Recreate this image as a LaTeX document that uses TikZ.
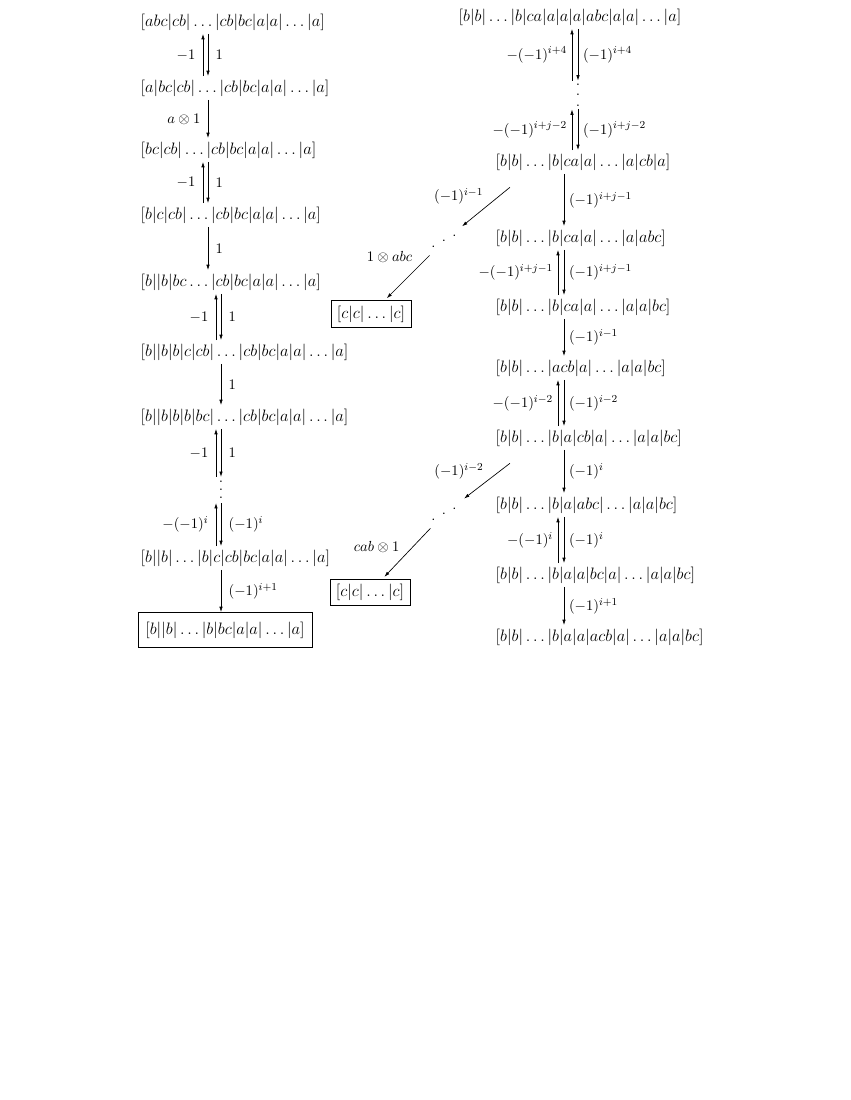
\RequirePackage{fix-cm}
\documentclass[tikz,border=0pt,12pt]{standalone}
\usetikzlibrary{arrows.meta}

\newcommand{\cellfont}{\fontsize{12.4pt}{15pt}\selectfont}
\newcommand{\tallvdots}[1]{\vbox{\baselineskip=#1\lineskiplimit=-10pt\hbox{$.$}\hbox{$.$}\hbox{$.$}}}

\tikzset{every picture/.style={line width=0.5pt}}
\tikzset{
  cell/.style={anchor=west,inner sep=2.5pt,font=\cellfont},
  boxcell/.style={draw,inner sep=4pt,font=\cellfont},
  lbl/.style={font=\small,inner sep=3.5pt},
  lblwide/.style={font=\small,inner sep=5.5pt},
  arr/.style={-{Latex[length=4pt,width=2.6pt]}}
}

\begin{document}
\begin{tikzpicture}[x=0.75pt,y=0.75pt,yscale=-1,xscale=1]
\useasboundingbox (0,0) rectangle (850,1100);

%Columns of the arrows
\coordinate (ca) at (203,0);
\coordinate (cb) at (208,0);
\coordinate (cc) at (216,0);
\coordinate (cd) at (221,0);
\coordinate (ra) at (572,0);
\coordinate (rb) at (578,0);
\coordinate (rc) at (558,0);
\coordinate (rd) at (564,0);

% Text Node
\draw (137,22) node [cell] (l1) {$[abc|cb|\dots|cb|bc|a|a|\dots|a]$};
% Text Node
\draw (137,88) node [cell] (l2) {$[a|bc|cb|\dots|cb|bc|a|a|\dots|a]$};
% Text Node
\draw (137,150) node [cell] (l3) {$[bc|cb|\dots|cb|bc|a|a|\dots|a]$};
% Text Node
\draw (137,215) node [cell] (l4) {$[b|c|cb|\dots|cb|bc|a|a|\dots|a]$};
% Text Node
\draw (137,282) node [cell] (l5) {$[b||b|bc\dots|cb|bc|a|a|\dots|a]$};
% Text Node
\draw (137,352) node [cell] (l6) {$[b||b|b|c|cb|\dots|cb|bc|a|a|\dots|a]$};
% Text Node
\draw (137,417) node [cell] (l7) {$[b||b|b|b|bc|\dots|cb|bc|a|a|\dots|a]$};
% Text Node
\draw (221,490) node [inner sep=3pt] (vdl) {\tallvdots{6pt}};
% Text Node
\draw (137,558) node [cell] (l8) {$[b||b|\dots|b|c|cb|bc|a|a|\dots|a]$};
% Text Node
\draw (225,630) node [boxcell,inner xsep=5.5pt,inner ysep=7pt] (l9) {$[b||b|\dots|b|bc|a|a|\dots|a]$};

% Text Node
\draw (455,17) node [cell] (r1) {$[b|b|\dots|b|ca|a|a|a|abc|a|a|\dots|a]$};
% Text Node
\draw (578,95) node [inner sep=2pt] (vdr) {\tallvdots{8pt}};
% Text Node
\draw (492,162) node [cell] (r2) {$[b|b|\dots|b|ca|a|\dots|a|cb|a]$};
% Text Node
\draw (492,238) node [cell] (r3) {$[b|b|\dots|b|ca|a|\dots|a|abc]$};
% Text Node
\draw (492,307) node [cell] (r4) {$[b|b|\dots|b|ca|a|\dots|a|a|bc]$};
% Text Node
\draw (492,368) node [cell] (r5) {$[b|b|\dots|acb|a|\dots|a|a|bc]$};
% Text Node
\draw (492,438) node [cell] (r6) {$[b|b|\dots|b|a|cb|a|\dots|a|a|bc]$};
% Text Node
\draw (492,505) node [cell] (r7) {$[b|b|\dots|b|a|abc|\dots|a|a|bc]$};
% Text Node
\draw (492,575) node [cell] (r8) {$[b|b|\dots|b|a|a|bc|a|\dots|a|a|bc]$};
% Text Node
\draw (492,637) node [cell] (r9) {$[b|b|\dots|b|a|a|acb|a|\dots|a|a|bc]$};

% Dots and boxes in the middle
\draw (444,241) node [rotate=28,inner sep=1pt] (dd1) {$.\hspace{5.7pt}.\hspace{5.7pt}.$};
\draw (371,314) node [boxcell,inner xsep=4.5pt] (c1) {$[c|c|\dots|c]$};
\draw (444,514) node [rotate=28,inner sep=1pt] (dd2) {$.\hspace{5.7pt}.\hspace{5.7pt}.$};
\draw (370,592) node [boxcell,inner xsep=4.5pt,inner ysep=3.5pt] (c2) {$[c|c|\dots|c]$};

%Straight Lines, left column
\draw [arr] (l2.north -| ca) -- (l1.south -| ca) node [midway,left,lblwide] {$-1$};
\draw [arr] (l1.south -| cb) -- (l2.north -| cb) node [midway,right,lblwide] {$1$};
\draw [arr] (l2.south -| cb) -- (l3.north -| cb) node [midway,left,lblwide] {$a\otimes 1$};
\draw [arr] (l4.north -| ca) -- (l3.south -| ca) node [midway,left,lblwide] {$-1$};
\draw [arr] (l3.south -| cb) -- (l4.north -| cb) node [midway,right,lblwide] {$1$};
\draw [arr] (l4.south -| cb) -- (l5.north -| cb) node [midway,right,lblwide] {$1$};
\draw [arr] (l6.north -| cc) -- (l5.south -| cc) node [midway,left,lblwide] {$-1$};
\draw [arr] (l5.south -| cd) -- (l6.north -| cd) node [midway,right,lblwide] {$1$};
\draw [arr] (l6.south -| cd) -- (l7.north -| cd) node [midway,right,lblwide] {$1$};
\draw [arr] (vdl.north -| cc) -- (l7.south -| cc) node [midway,left,lblwide] {$-1$};
\draw [arr] (l7.south -| cd) -- (vdl.north -| cd) node [midway,right,lblwide] {$1$};
\draw [arr] (l8.north -| cc) -- (vdl.south -| cc) node [midway,left,lblwide] {$-(-1)^{i}$};
\draw [arr] (vdl.south -| cd) -- (l8.north -| cd) node [midway,right,lblwide] {$(-1)^{i}$};
\draw [arr] (l8.south -| cd) -- (l9.north -| cd) node [midway,right,lblwide] {$(-1)^{i+1}$};

%Straight Lines, right column
\draw [arr] (vdr.north -| ra) -- (r1.south -| ra) node [midway,left,lbl] {$-(-1)^{i+4}$};
\draw [arr] (r1.south -| rb) -- (vdr.north -| rb) node [midway,right,lbl] {$(-1)^{i+4}$};
\draw [arr] (r2.north -| ra) -- (vdr.south -| ra) node [midway,left,lbl] {$-(-1)^{i+j-2}$};
\draw [arr] (vdr.south -| rb) -- (r2.north -| rb) node [midway,right,lbl] {$(-1)^{i+j-2}$};
\draw [arr] (r2.south -| rd) -- (r3.north -| rd) node [midway,right,lbl] {$(-1)^{i+j-1}$};
\draw [arr] (r4.north -| rc) -- (r3.south -| rc) node [midway,left,lbl] {$-(-1)^{i+j-1}$};
\draw [arr] (r3.south -| rd) -- (r4.north -| rd) node [midway,right,lbl] {$(-1)^{i+j-1}$};
\draw [arr] (r4.south -| rd) -- (r5.north -| rd) node [midway,right,lbl] {$(-1)^{i-1}$};
\draw [arr] (r6.north -| rc) -- (r5.south -| rc) node [midway,left,lbl] {$-(-1)^{i-2}$};
\draw [arr] (r5.south -| rd) -- (r6.north -| rd) node [midway,right,lbl] {$(-1)^{i-2}$};
\draw [arr] (r6.south -| rd) -- (r7.north -| rd) node [midway,right,lbl] {$(-1)^{i}$};
\draw [arr] (r8.north -| rc) -- (r7.south -| rc) node [midway,left,lbl] {$-(-1)^{i}$};
\draw [arr] (r7.south -| rd) -- (r8.north -| rd) node [midway,right,lbl] {$(-1)^{i}$};
\draw [arr] (r8.south -| rd) -- (r9.north -| rd) node [midway,right,lbl] {$(-1)^{i+1}$};

%Straight Lines, diagonals
\draw [arr,shorten >=8pt] ([xshift=13.5pt,yshift=10pt]r2.south west) -- (dd1) node [pos=0.2,left=8pt,lbl] {$(-1)^{i-1}$};
\draw [arr,shorten <=9pt,shorten >=2pt] (dd1) -- (c1) node [pos=0.19,left=8pt,lbl] {$1\otimes abc$};
\draw [arr,shorten >=8pt] ([xshift=13.5pt,yshift=10pt]r6.south west) -- (dd2) node [pos=0.2,left=8pt,lbl] {$(-1)^{i-2}$};
\draw [arr,shorten <=9pt,shorten >=2pt] (dd2) -- (c2) node [pos=0.47,left=6pt,lbl] {$cab\otimes 1$};

\end{tikzpicture}
\end{document}
